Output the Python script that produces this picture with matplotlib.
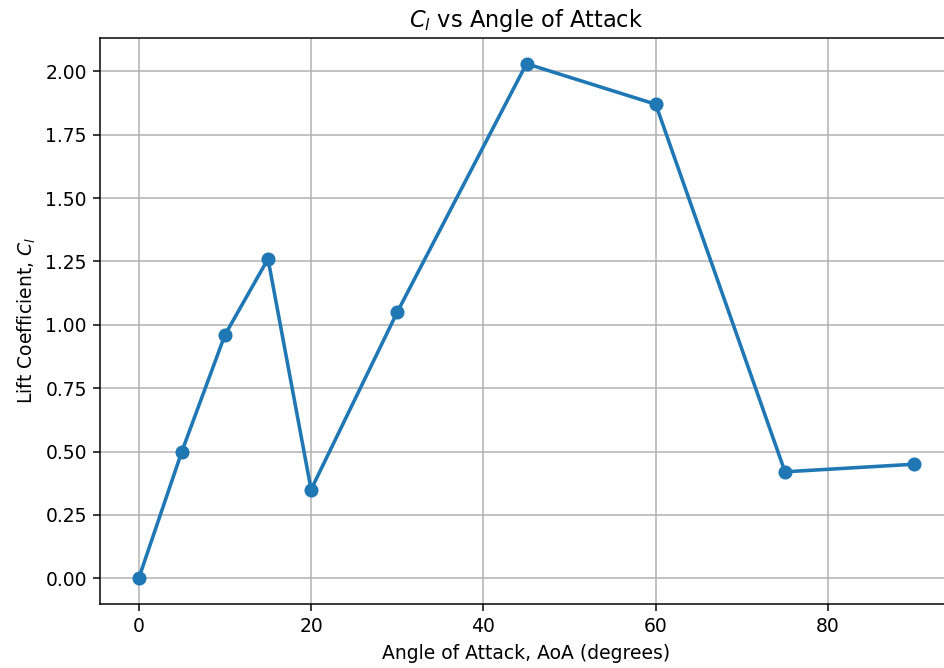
## lift coefficient vs angle of attack
import numpy as np
import matplotlib
matplotlib.use("Agg")
import matplotlib.pyplot as plt

# angle of attack (deg) and measured lift coefficient
aoa = [0, 5, 10, 15, 20, 30, 45, 60, 75, 90]
cl = [0.0, 0.50, 0.96, 1.26, 0.35, 1.05, 2.03, 1.87, 0.42, 0.45]

dpi = 135
fig = plt.figure(figsize=(944 / dpi, 668 / dpi), dpi=dpi)
# axes run a little past the right edge, as in the reference crop
ax = fig.add_axes([100 / 944, 64 / 668, 853 / 944, 566 / 668])

ax.plot(aoa, cl, marker='o', linewidth=1.9, markersize=6.5)
ax.set_title(r'$C_l$ vs Angle of Attack')
ax.set_xlabel('Angle of Attack, AoA (degrees)')
ax.set_ylabel(r'Lift Coefficient, $C_l$')
ax.grid(True)
ax.spines['right'].set_visible(False)

fig.savefig("out.png", dpi=dpi)
